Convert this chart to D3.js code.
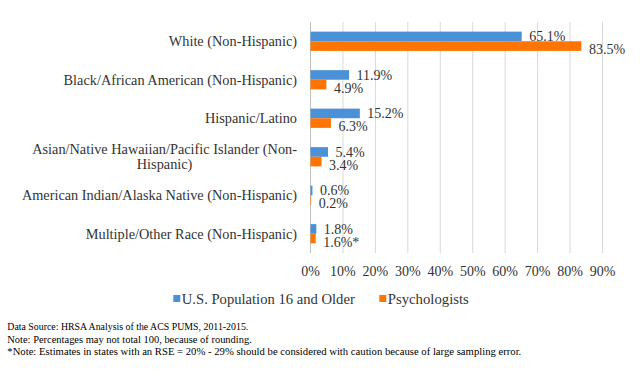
<!DOCTYPE html>
<html><head><meta charset="utf-8">
<script src="https://cdn.jsdelivr.net/npm/d3@7"></script>
<style>body{margin:0;background:#fff}svg{display:block}text{font-family:"Liberation Serif","Times New Roman",serif;fill:#333}</style>
</head><body><svg id="c" width="640" height="372"></svg>
<script>
const categories = ["White (Non-Hispanic)","Black/African American (Non-Hispanic)","Hispanic/Latino","Asian/Native Hawaiian/Pacific Islander (Non-Hispanic)","American Indian/Alaska Native (Non-Hispanic)","Multiple/Other Race (Non-Hispanic)"];
const categoryLines = [["White (Non-Hispanic)"],["Black/African American (Non-Hispanic)"],["Hispanic/Latino"],["Asian/Native Hawaiian/Pacific Islander (Non-","Hispanic)"],["American Indian/Alaska Native (Non-Hispanic)"],["Multiple/Other Race (Non-Hispanic)"]];
const seriesNames = ["U.S. Population 16 and Older","Psychologists"];
const usPop = [65.1, 11.9, 15.2, 5.4, 0.6, 1.8];
const psych = [83.5, 4.9, 6.3, 3.4, 0.2, 1.6];
const usLabels = ["65.1%","11.9%","15.2%","5.4%","0.6%","1.8%"];
const psychLabels = ["83.5%","4.9%","6.3%","3.4%","0.2%","1.6%*"];
const ticks = [0,10,20,30,40,50,60,70,80,90];
const colors = ["#4a91d8","#ff7500"];
const notes = ["Data Source: HRSA Analysis of the ACS PUMS, 2011-2015.","Note: Percentages may not total 100, because of rounding.","*Note: Estimates in states with an RSE = 20% - 29% should be considered with caution because of large sampling error."];

const svg = d3.select("#c");
const x = d3.scaleLinear().domain([0,90]).range([310.5,602.5]);
const y = d3.scaleBand().domain(categories).range([22,253]).paddingInner(0.5).paddingOuter(0.25);
const sub = d3.scaleBand().domain(seriesNames).range([0,y.bandwidth()]);

// gridlines
svg.append("g").selectAll("line").data(ticks).join("line")
  .attr("x1",d=>x(d)).attr("x2",d=>x(d)).attr("y1",22).attr("y2",253)
  .attr("stroke",d=>d===0?"#bfbfbf":"#d9d9d9").attr("stroke-width",1);

// tick labels
svg.append("g").selectAll("text").data(ticks).join("text")
  .attr("x",d=>x(d)).attr("y",276).attr("text-anchor","middle")
  .style("font-size","14px").text(d=>d+"%");

const series = [usPop, psych];
const labs = [usLabels, psychLabels];
const labOff = [0, 12.8];
series.forEach((vals,si)=>{
  const g = svg.append("g");
  g.selectAll("rect").data(vals).join("rect")
    .attr("x",x(0)).attr("y",(d,i)=>y(categories[i])+sub(seriesNames[si]))
    .attr("width",d=>x(d)-x(0)).attr("height",sub.bandwidth())
    .attr("fill",colors[si]);
  g.selectAll("text").data(vals).join("text")
    .attr("x",d=>x(d)+7.5).attr("y",(d,i)=>y(categories[i])+y.bandwidth()/2+labOff[si])
    .style("font-size","14px").text((d,i)=>labs[si][i]);
});

// category labels
categoryLines.forEach((lines,i)=>{
  const cy = y(categories[i])+y.bandwidth()/2;
  const lh = 15;
  const y0 = cy - (lines.length-1)*lh/2 + 5;
  const t0 = svg.append("text").attr("x",297).attr("y",y0).attr("text-anchor","end")
    .style("font-size","14.3px").text(lines[0]);
  if(lines.length>1){
    const w = t0.node().getComputedTextLength();
    for(let k=1;k<lines.length;k++){
      svg.append("text").attr("x",297-w/2).attr("y",y0+k*lh).attr("text-anchor","middle")
        .style("font-size","14.3px").text(lines[k]);
    }
  }
});

// legend
const legX = [173.3, 379.3];
const legW = [173, 81];
seriesNames.forEach((n,i)=>{
  svg.append("rect").attr("x",legX[i]).attr("y",295).attr("width",7).attr("height",7).attr("fill",colors[i]);
  svg.append("text").attr("x",legX[i]+8.5).attr("y",303.5).style("font-size","15px")
    .attr("textLength",legW[i]).attr("lengthAdjust","spacingAndGlyphs").text(n);
});

// notes
const noteW = [241, 244.5, 514];
notes.forEach((n,i)=>{
  svg.append("text").attr("x",7.3).attr("y",330+i*12.5).style("font-size","10.2px").style("fill","#000")
    .attr("textLength",noteW[i]).attr("lengthAdjust","spacingAndGlyphs").text(n);
});
</script></body></html>
